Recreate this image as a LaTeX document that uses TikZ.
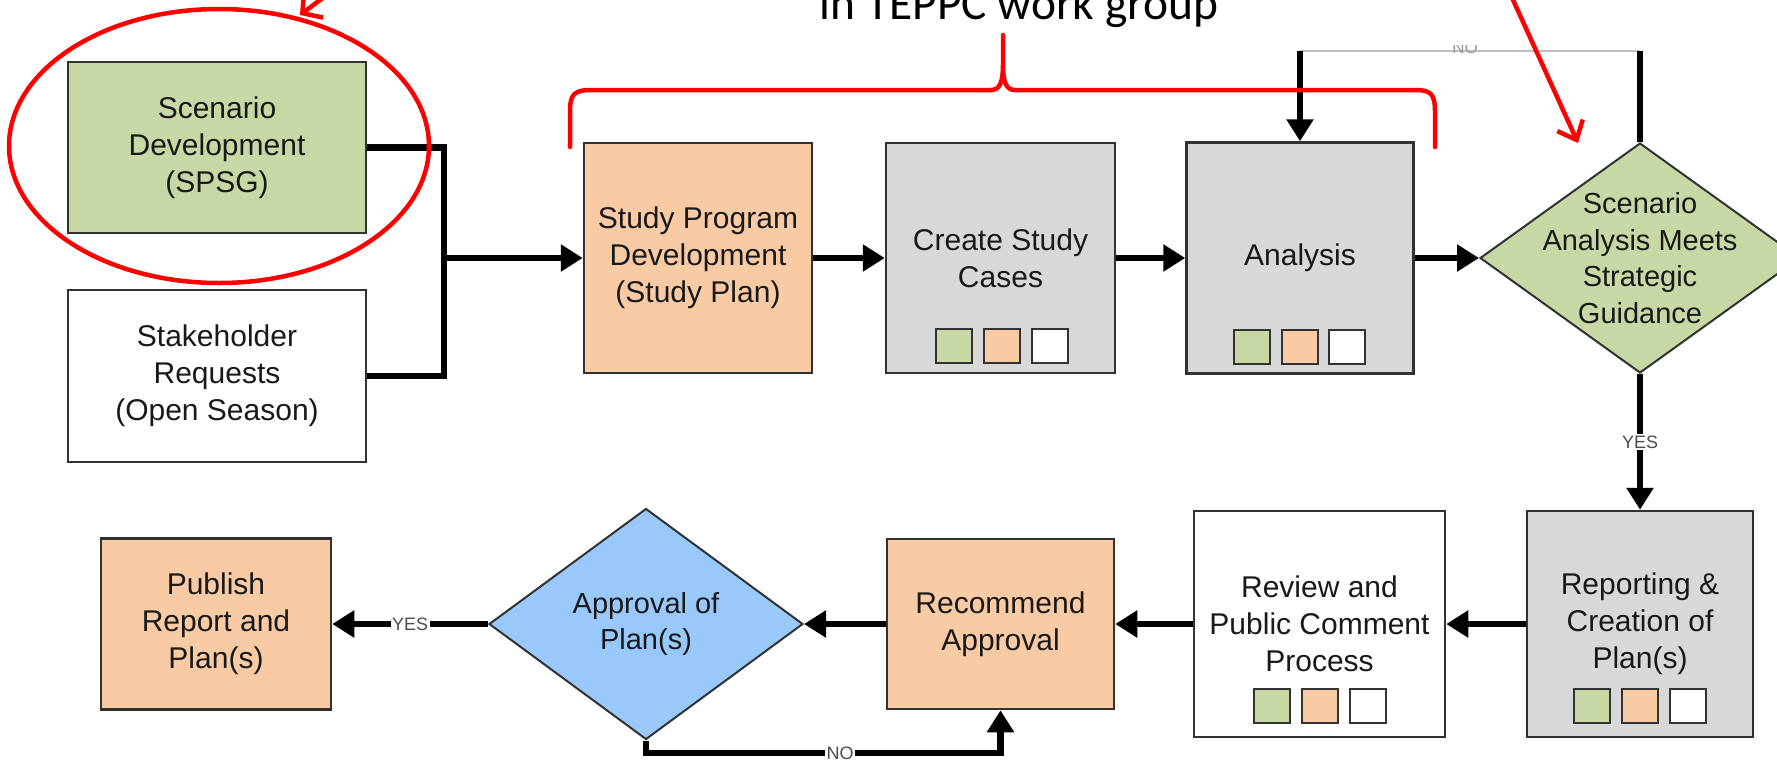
\documentclass[tikz,border=0pt]{standalone}
\usepackage{fontspec}
\setmainfont{Liberation Sans}
\newfontfamily\calfont{Carlito}
\usetikzlibrary{shapes.geometric,arrows.meta}
\definecolor{cgreen}{RGB}{200,216,165}
\definecolor{cpeach}{RGB}{248,203,164}
\definecolor{cgray}{RGB}{216,216,216}
\definecolor{cblue}{RGB}{153,201,250}
\definecolor{cborder}{RGB}{50,50,50}
\definecolor{ctext}{RGB}{25,25,25}
\definecolor{cred}{RGB}{255,0,0}
\tikzset{
  procbox/.style={draw=cborder, line width=2.5pt, rectangle, align=center, inner sep=0pt,
    text=ctext, font=\fontsize{30}{37}\selectfont},
  decision/.style={draw=cborder, line width=2pt, diamond, inner sep=0pt},
  dtext/.style={align=center, text=ctext, font=\fontsize{29}{36.5}\selectfont, inner sep=0pt},
  swatch/.style={draw=cborder, line width=2.5pt, minimum width=36pt, minimum height=34pt, inner sep=0pt},
  flow/.style={line width=6.5pt, -{Triangle[length=22pt,width=26pt]}},
  plain/.style={line width=6.5pt},
  lbl/.style={font=\fontsize{18}{18}\selectfont, text=black!70, fill=white, inner sep=1.5pt},
  redline/.style={draw=cred, line width=4.5pt},
}
\begin{document}
\begin{tikzpicture}[x=1pt,y=-1pt]
\useasboundingbox (0,0) rectangle (1777,764);
\clip (0,0) rectangle (1777,764);

% ---- title
\node[font=\calfont\fontsize{47.5}{50}\selectfont, anchor=base, inner sep=0pt] (title) at (1019,19) {in TEPPC work group};

% ---- boxes, top row
\node[procbox, fill=cgreen, minimum width=298pt, minimum height=171pt] (sd) at (217,147.5) {Scenario\\Development\\(SPSG)};
\node[procbox, fill=white, minimum width=298pt, minimum height=172pt] (sh) at (217,376) {Stakeholder\\Requests\\(Open Season)};
\node[procbox, fill=cpeach, minimum width=228pt, minimum height=230pt] (sp) at (698,258) {Study Program\\Development\\(Study Plan)};
\node[procbox, fill=cgray, minimum width=229pt, minimum height=230pt] (cs) at (1000.5,258) {Create Study\\Cases};
\node[procbox, fill=cgray, minimum width=227pt, minimum height=231pt] (an) at (1300,258) {Analysis};
\node[decision, fill=cgreen, minimum width=320pt, minimum height=230pt] (sa) at (1640,258) {};
\node[dtext] (satext) at (sa.center) {Scenario\\Analysis Meets\\Strategic\\Guidance};

% ---- boxes, bottom row
\node[procbox, fill=cgray, minimum width=226pt, minimum height=226pt] (rc) at (1640,624) {Reporting \&\\Creation of\\Plan(s)};
\node[procbox, fill=white, minimum width=251pt, minimum height=226pt] (rv) at (1319.5,624) {Review and\\Public Comment\\Process};
\node[procbox, fill=cpeach, minimum width=227pt, minimum height=170pt] (ra) at (1000.5,624) {Recommend\\Approval};
\node[decision, fill=cblue, minimum width=314pt, minimum height=231pt] (ap) at (646,624) {};
\node[dtext] (aptext) at (ap.center) {Approval of\\Plan(s)};
\node[procbox, fill=cpeach, minimum width=230pt, minimum height=171pt] (pb) at (216,624) {Publish\\Report and\\Plan(s)};

% ---- swatches
\node[swatch, fill=cgreen] (cs1) at (954,346) {};
\node[swatch, fill=cpeach] (cs2) at (1002,346) {};
\node[swatch, fill=white] (cs3) at (1050,346) {};
\node[swatch, fill=cgreen] (an1) at (1252,347) {};
\node[swatch, fill=cpeach] (an2) at (1300,347) {};
\node[swatch, fill=white] (an3) at (1347,347) {};
\node[swatch, fill=cgreen] (rv1) at (1272,706) {};
\node[swatch, fill=cpeach] (rv2) at (1320,706) {};
\node[swatch, fill=white] (rv3) at (1368,706) {};
\node[swatch, fill=cgreen] (rc1) at (1592,706) {};
\node[swatch, fill=cpeach] (rc2) at (1640,706) {};
\node[swatch, fill=white] (rc3) at (1688,706) {};

% ---- connectors
\coordinate (j1) at (444,258);
\draw[plain] (sd.east) -| (j1);
\draw[plain] (sh.east) -| (j1);
\draw[flow] (j1) -- (sp.west);
\draw[flow] (sp.east) -- (cs.west);
\draw[flow] (cs.east) -- (an.west);
\draw[flow] (an.east) -- (sa.west);

\coordinate (t1) at (1300,51);
\coordinate (t2) at (1640,51);
\draw[draw=black!25, line width=1.5pt] (t1) -- (t2);
\begin{scope}
  \clip (1430,45) rectangle (1500,60);
  \node[font=\fontsize{17}{17}\selectfont, text=black!40, anchor=base, inner sep=0pt] (notop) at (1465,53) {NO};
\end{scope}
\draw[flow] (t1) -- (an.north);
\draw[plain] (sa.north) -- (t2);

\draw[flow] (sa.south) -- node[lbl] (yes1) {YES} (rc.north);
\draw[flow] (rc.west) -- (rv.east);
\draw[flow] (rv.west) -- (ra.east);
\draw[flow] (ra.west) -- (ap.east);
\draw[flow] (ap.west) -- node[lbl] (yes2) {YES} (pb.east);

\coordinate (n2) at (1000.5,753);
\draw[flow] (ap.south) |- (n2) -- (ra.south);
\node[lbl] (no2) at (840,753) {NO};

% ---- red annotations
\node[draw=cred, line width=4.5pt, ellipse, minimum width=420pt, minimum height=274pt, inner sep=0pt] (hl) at (219,146) {};
\coordinate (ra1s) at (360,-30);
\coordinate (ra1e) at (300,15);
\draw[redline, -{Straight Barb[length=14pt,width=32pt]}] (ra1s) -- (ra1e);
\coordinate (ra2s) at (1504,-20);
\coordinate (ra2e) at (1578,143);
\draw[redline, -{Straight Barb[length=16pt,width=28pt]}] (ra2s) -- (ra2e);
\draw[redline, line join=round, line cap=round] (570,147) -- (570,112) .. controls (570,94) and (574,90) .. (592,90)
  -- (991,90) .. controls (1000,90) and (1003,82) .. (1003,64) -- (1003,35)
  -- (1003,64) .. controls (1003,82) and (1006,90) .. (1015,90) -- (1415,90)
  .. controls (1431,90) and (1435,94) .. (1435,112) -- (1435,147);
\end{tikzpicture}
\end{document}
